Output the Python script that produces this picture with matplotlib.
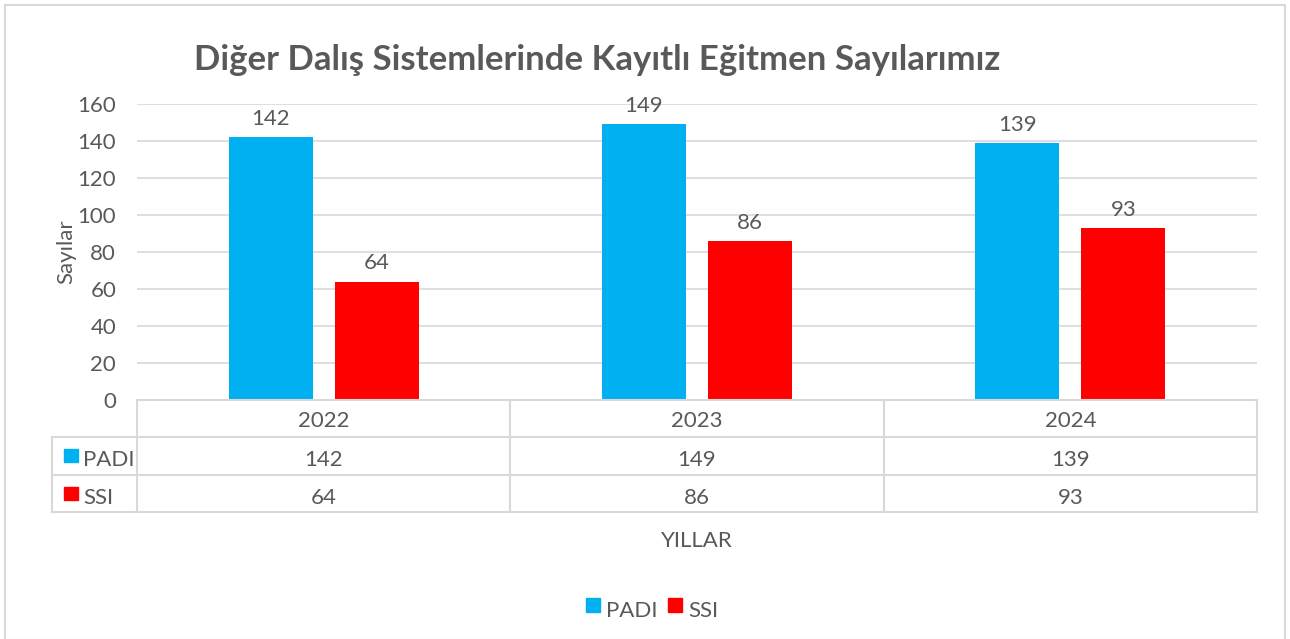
import matplotlib
matplotlib.use("Agg")
import matplotlib.pyplot as plt
import numpy as np
from matplotlib.patches import Rectangle
from matplotlib.lines import Line2D

years = ["2022", "2023", "2024"]
padi = [142, 149, 139]
ssi = [64, 86, 93]
series_names = ["PADI", "SSI"]
colors = ["#00B0F0", "#FF0000"]
title = "Diğer Dalış Sistemlerinde Kayıtlı Eğitmen Sayılarımız"
ylabel = "Sayılar"
xlabel = "YILLAR"
yticks = [0, 20, 40, 60, 80, 100, 120, 140, 160]

plt.rcParams['font.family'] = ['Lato', 'DejaVu Sans']
TXT = "#595959"
GRID = "#D9D9D9"
FS = 16

W, H = 1290, 639
fig = plt.figure(figsize=(W / 100, H / 100), dpi=100)

def fx(px):
    return px / W

def fy(py):
    return 1 - py / H

# outer border
fig.patches.append(Rectangle((fx(5), fy(640)), fx(1285) - fx(5), fy(5) - fy(640),
                             transform=fig.transFigure, fill=False,
                             edgecolor=GRID, linewidth=1.5))

left, right, top, bottom = 137, 1257, 104, 400
ax = fig.add_axes([fx(left), fy(bottom), fx(right) - fx(left), fy(top) - fy(bottom)])
x = np.arange(len(years))
width = 0.225
off = 0.142
b1 = ax.bar(x - off, padi, width, color=colors[0], zorder=3)
b2 = ax.bar(x + off, ssi, width, color=colors[1], zorder=3)
for bars, vals in ((b1, padi), (b2, ssi)):
    for r, v in zip(bars, vals):
        ax.annotate(str(v), (r.get_x() + r.get_width() / 2, v), xytext=(0, 6),
                    textcoords="offset points", ha="center", va="bottom",
                    fontsize=FS, color=TXT)

ax.set_xlim(-0.5, len(years) - 0.5)
ax.set_ylim(0, 160)
ax.set_yticks(yticks)
ax.set_yticklabels([str(t) for t in yticks], fontsize=FS, color=TXT)
ax.tick_params(axis="y", length=0, pad=15)
ax.tick_params(axis="x", length=0, labelbottom=False)
ax.grid(axis="y", color=GRID, linewidth=1.2, zorder=0)
for s in ax.spines.values():
    s.set_visible(False)
ax.set_ylabel(ylabel, fontsize=FS, color=TXT, labelpad=1)

# data table
rows_y = [400, 437, 475, 512]
col_x = [137, 510, 884, 1257]
def hline(y, x0, x1):
    fig.add_artist(Line2D([fx(x0), fx(x1)], [fy(y), fy(y)], color=GRID, lw=1.5,
                          transform=fig.transFigure))
def vline(xp, y0, y1):
    fig.add_artist(Line2D([fx(xp), fx(xp)], [fy(y0), fy(y1)], color=GRID, lw=1.5,
                          transform=fig.transFigure))
hline(400, 137, 1257)
for yy in rows_y[1:]:
    hline(yy, 52, 1257)
for xx in col_x:
    vline(xx, 400, 512)
vline(52, 437, 512)

for i, yr in enumerate(years):
    cx = (col_x[i] + col_x[i + 1]) / 2
    fig.text(fx(cx), fy(421), yr, ha="center", va="center", fontsize=FS, color=TXT)
    fig.text(fx(cx), fy(460), str(padi[i]), ha="center", va="center", fontsize=FS, color=TXT)
    fig.text(fx(cx), fy(498), str(ssi[i]), ha="center", va="center", fontsize=FS, color=TXT)

for j, (name, c) in enumerate(zip(series_names, colors)):
    ry = [449, 487][j]
    fig.patches.append(Rectangle((fx(64), fy(ry + 13)), fx(14), fy(0) - fy(13),
                                 transform=fig.transFigure, color=c))
    fig.text(fx(83), fy(ry + 11), name, ha="left", va="center", fontsize=FS, color=TXT)

fig.text(fx(697), fy(541), xlabel, ha="center", va="center", fontsize=FS, color=TXT)
fig.text(fx(597), fy(60), title, ha="center", va="center", fontsize=25,
         fontweight="bold", color=TXT)

# legend
for name, c, sx in zip(series_names, colors, [586, 668]):
    fig.patches.append(Rectangle((fx(sx), fy(612)), fx(14), fy(0) - fy(14),
                                 transform=fig.transFigure, color=c))
    fig.text(fx(sx + 20), fy(611), name, ha="left", va="center", fontsize=FS, color=TXT)

fig.savefig("out.png", dpi=100, facecolor="white")
